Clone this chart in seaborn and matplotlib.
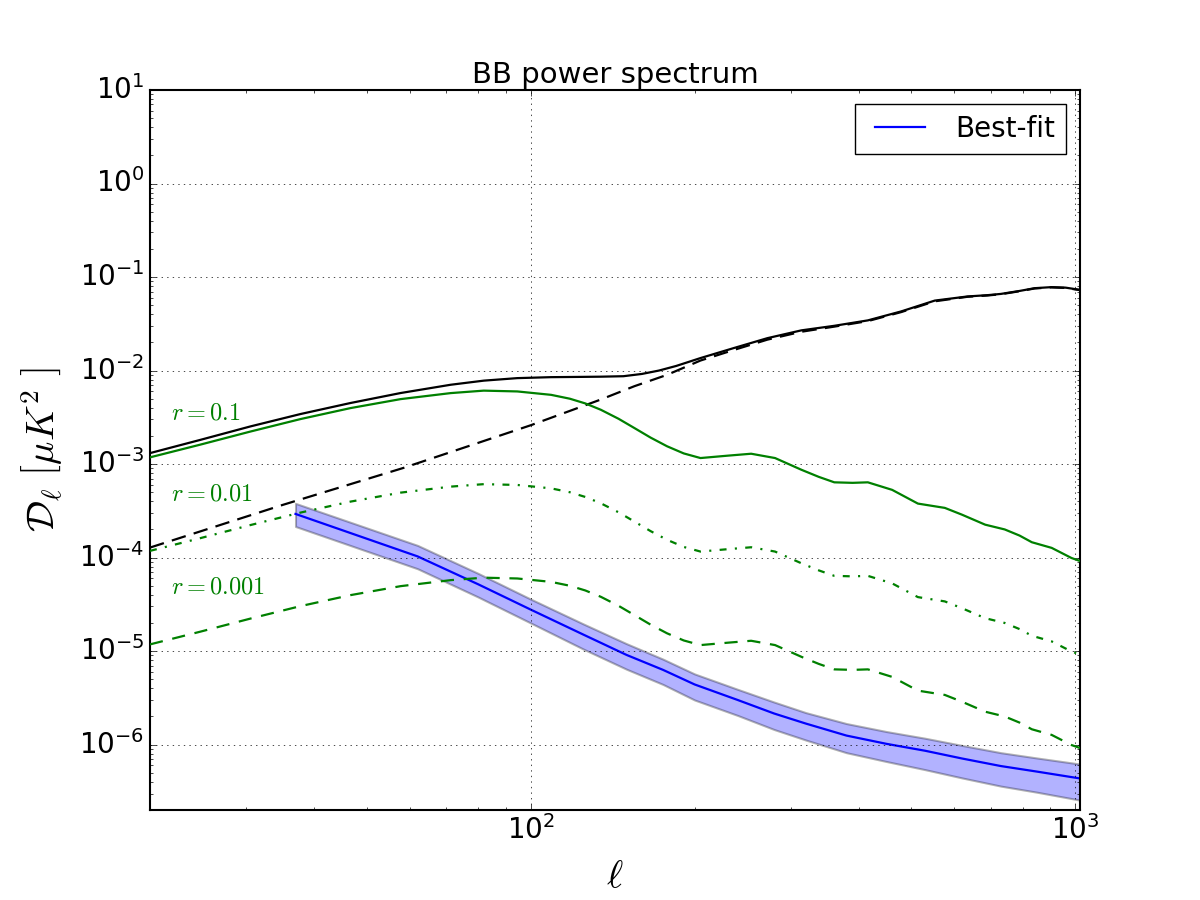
import numpy as np
import pandas as pd
import matplotlib
matplotlib.use("Agg")
import matplotlib.pyplot as plt
import seaborn as sns

# --- datos ---
# modo B tensorial, r = 0.1
ell_t = [20, 24.7, 30.6, 37.8, 46.7, 57.7, 71.3, 82, 94.5, 109, 118, 126, 134.5, 145, 155, 166,
         178, 191, 205, 230, 254, 281, 314, 338, 361, 390, 416, 461, 514, 576, 619, 683, 742,
         790, 832, 905, 984, 1020]
bb_r01 = [1.18e-3, 1.61e-3, 2.23e-3, 3.03e-3, 3.97e-3, 4.95e-3, 5.74e-3, 6.1e-3, 5.98e-3, 5.5e-3,
          5.0e-3, 4.45e-3, 3.81e-3, 3.05e-3, 2.43e-3, 1.92e-3, 1.55e-3, 1.3e-3, 1.16e-3, 1.23e-3,
          1.29e-3, 1.16e-3, 8.7e-4, 7.3e-4, 6.38e-4, 6.3e-4, 6.38e-4, 5.3e-4, 3.78e-4, 3.4e-4,
          2.88e-4, 2.25e-4, 2.0e-4, 1.72e-4, 1.46e-4, 1.27e-4, 9.9e-5, 9.2e-5]
# r = 0.01
bb_r001 = [1.18e-4, 1.61e-4, 2.23e-4, 3.03e-4, 3.97e-4, 4.95e-4, 5.74e-4, 6.1e-4, 5.98e-4, 5.5e-4,
           5.0e-4, 4.45e-4, 3.81e-4, 3.05e-4, 2.43e-4, 1.92e-4, 1.55e-4, 1.3e-4, 1.16e-4, 1.23e-4,
           1.29e-4, 1.16e-4, 8.7e-5, 7.3e-5, 6.38e-5, 6.3e-5, 6.38e-5, 5.3e-5, 3.78e-5, 3.4e-5,
           2.88e-5, 2.25e-5, 2.0e-5, 1.72e-5, 1.46e-5, 1.27e-5, 9.9e-6, 9.2e-6]
# r = 0.001
bb_r0001 = [1.18e-5, 1.61e-5, 2.23e-5, 3.03e-5, 3.97e-5, 4.95e-5, 5.74e-5, 6.1e-5, 5.98e-5, 5.5e-5,
            5.0e-5, 4.45e-5, 3.81e-5, 3.05e-5, 2.43e-5, 1.92e-5, 1.55e-5, 1.3e-5, 1.16e-5, 1.23e-5,
            1.29e-5, 1.16e-5, 8.7e-6, 7.3e-6, 6.38e-6, 6.3e-6, 6.38e-6, 5.3e-6, 3.78e-6, 3.4e-6,
            2.88e-6, 2.25e-6, 2.0e-6, 1.72e-6, 1.46e-6, 1.27e-6, 9.9e-7, 9.2e-7]

# total (lensing + r=0.1)
ell_tot = [20, 24.7, 30.6, 37.8, 46.7, 57.7, 71.3, 82, 94.5, 109, 122, 134.5, 148, 160, 172,
           185, 205, 236, 272, 314, 361, 416, 479, 552, 634, 690, 730, 790, 842, 904, 960, 1019]
bb_tot = [1.31e-3, 1.81e-3, 2.53e-3, 3.43e-3, 4.5e-3, 5.75e-3, 7.05e-3, 7.8e-3, 8.3e-3, 8.5e-3,
          8.55e-3, 8.6e-3, 8.7e-3, 9.2e-3, 1.0e-2, 1.12e-2, 1.36e-2, 1.74e-2, 2.22e-2, 2.69e-2,
          3.01e-2, 3.44e-2, 4.29e-2, 5.6e-2, 6.2e-2, 6.4e-2, 6.6e-2, 7.1e-2, 7.6e-2, 7.8e-2,
          7.7e-2, 7.3e-2]

# lensing
ell_lens = [20, 35, 58.4, 100, 134.5, 155, 178, 205, 236, 272, 314, 361, 416, 479, 552, 634,
            690, 730, 790, 842, 904, 960, 1019]
bb_lens = [1.28e-4, 3.65e-4, 9.1e-4, 2.6e-3, 4.9e-3, 6.8e-3, 9.0e-3, 1.28e-2, 1.66e-2, 2.14e-2,
           2.6e-2, 2.95e-2, 3.38e-2, 4.22e-2, 5.5e-2, 6.15e-2, 6.35e-2, 6.55e-2, 7.05e-2,
           7.55e-2, 7.75e-2, 7.65e-2, 7.25e-2]

# mejor ajuste y banda
ell_fit = [37, 62, 80, 100, 125, 150, 175, 200, 240, 280, 320, 380, 450, 530, 620, 730, 850, 1020]
bb_fit = [2.93e-4, 1.03e-4, 5.2e-5, 2.78e-5, 1.5e-5, 9.1e-6, 6.3e-6, 4.4e-6, 3.0e-6, 2.15e-6,
          1.68e-6, 1.25e-6, 1.02e-6, 8.6e-7, 7.1e-7, 5.9e-7, 5.15e-7, 4.35e-7]
bb_fit_hi = [3.8e-4, 1.35e-4, 6.8e-5, 3.6e-5, 1.95e-5, 1.2e-5, 8.2e-6, 5.7e-6, 3.9e-6, 2.85e-6,
             2.2e-6, 1.68e-6, 1.38e-6, 1.17e-6, 9.8e-7, 8.2e-7, 7.2e-7, 6.2e-7]
bb_fit_lo = [2.15e-4, 7.6e-5, 3.8e-5, 2.0e-5, 1.05e-5, 6.4e-6, 4.4e-6, 3.0e-6, 2.05e-6, 1.45e-6,
             1.12e-6, 8.2e-7, 6.6e-7, 5.4e-7, 4.4e-7, 3.6e-7, 3.1e-7, 2.55e-7]

r_labels = ["$r=0.1$", "$r=0.01$", "$r=0.001$"]
r_label_y = [3.6e-3, 4.8e-4, 4.9e-5]

# --- estilo ---
plt.style.use("classic")
plt.rcParams["figure.facecolor"] = "white"
plt.rcParams["savefig.facecolor"] = "white"
plt.rcParams["lines.scale_dashes"] = False
plt.rcParams["axes.linewidth"] = 1.5

df_t = pd.DataFrame({"ell": ell_t, "r01": bb_r01, "r001": bb_r001, "r0001": bb_r0001})
df_tot = pd.DataFrame({"ell": ell_tot, "bb": bb_tot})
df_lens = pd.DataFrame({"ell": ell_lens, "bb": bb_lens})
df_fit = pd.DataFrame({"ell": ell_fit, "bb": bb_fit, "hi": bb_fit_hi, "lo": bb_fit_lo})

fig, ax = plt.subplots(figsize=(12, 9), dpi=100)
ax.set_xscale("log")
ax.set_yscale("log")

ax.fill_between(df_fit["ell"], df_fit["lo"], df_fit["hi"], facecolor="b", edgecolor="k",
                alpha=0.3, linewidth=1.5, zorder=1)
sns.lineplot(data=df_fit, x="ell", y="bb", ax=ax, color="b", linewidth=1.6, label="Best-fit", zorder=2)

sns.lineplot(data=df_tot, x="ell", y="bb", ax=ax, color="k", linewidth=1.6, zorder=3)
sns.lineplot(data=df_lens, x="ell", y="bb", ax=ax, color="k", linewidth=1.6,
             linestyle=(0, (10.5, 6)), zorder=3)
sns.lineplot(data=df_t, x="ell", y="r01", ax=ax, color="g", linewidth=1.6, zorder=3)
sns.lineplot(data=df_t, x="ell", y="r001", ax=ax, color="g", linewidth=1.6,
             linestyle=(0, (5, 6, 1.5, 6)), zorder=3)
sns.lineplot(data=df_t, x="ell", y="r0001", ax=ax, color="g", linewidth=1.6,
             linestyle=(0, (9.5, 7)), zorder=3)

for lab, yy in zip(r_labels, r_label_y):
    ax.text(21.9, yy, lab, color="g", fontsize=17.5, ha="left", va="center")

ax.set_xlim(20, 1020)
ax.set_ylim(2e-7, 10)
ax.grid(True, which="major")
ax.tick_params(labelsize=20)
ax.set_title("BB power spectrum", fontsize=21)
ax.set_xlabel(r"$\ell$", fontsize=28, labelpad=8)
ax.set_ylabel(r"$\mathcal{D}_\ell\ \left[\mu K^2\ \right]$", fontsize=28, labelpad=10)
ax.legend(loc="upper right", fontsize=20, handlelength=2.4)

plt.savefig("out.png", dpi=100)
